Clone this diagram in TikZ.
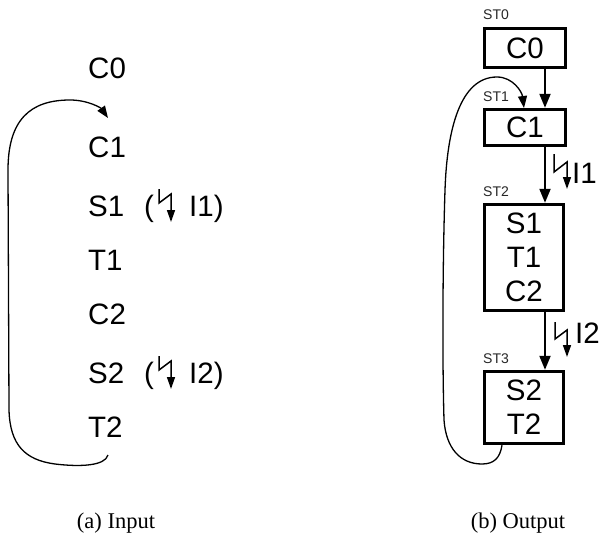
\documentclass[tikz,border=0pt]{standalone}
\usepackage{fontspec}
\setmainfont{Liberation Sans}
\newfontfamily\capfont{Liberation Serif}
\usetikzlibrary{arrows.meta}
\begin{document}
\begin{tikzpicture}[x=1pt,y=-1pt,
  lbl/.style={font=\fontsize{29.5}{34}\selectfont, inner sep=0pt, anchor=base west},
  stbox/.style={draw, line width=3.4pt, align=center, inner sep=0pt, font=\fontsize{29.5}{34}\selectfont},
  stlabel/.style={font=\fontsize{14}{16}\selectfont, inner sep=0pt, anchor=base west, text=black!85},
  flow/.style={line width=2pt, -{Triangle[width=11pt,length=14pt]}},
  loopline/.style={line width=1.3pt, -{Triangle[width=9pt,length=12pt]}},
  bolt/.style={line width=1.5pt, line join=miter, -{Triangle[width=8pt,length=12pt]}},
  captext/.style={font=\capfont\fontsize{22.5}{26}\selectfont, inner sep=0pt, anchor=base}
]
\useasboundingbox (0,0) rectangle (602,535);

% ---------- (a) Input ----------
\node[lbl] (c0) at (88,78) {C0};
\node[lbl] (c1) at (88,157) {C1};
\node[lbl] (s1) at (88,216) {S1};
\node[lbl] (t1) at (88,270) {T1};
\node[lbl] (c2) at (88,324) {C2};
\node[lbl] (s2) at (88,383) {S2};
\node[lbl] (t2) at (88,437) {T2};

\node[lbl] (p1) at (144,216) {(};
\node[lbl] (i1) at (189,216) {I1)};
\node[lbl] (p2) at (144,383) {(};
\node[lbl] (i2) at (189,383) {I2)};
\draw[bolt] (159,189) -- (159,203) -- (171,194) -- (171,222);
\draw[bolt] (159,356) -- (159,370) -- (171,361) -- (171,389);

\coordinate (t2out) at (108,455);
\coordinate (c1in) at (108,118);
\draw[loopline] (t2out) .. controls (105,466) and (80,467) .. (55,464)
  .. controls (25,460) and (10,445) .. (9,410) -- (8,170)
  .. controls (8,120) and (30,100) .. (70,100)
  .. controls (88,100) and (101,108) .. (c1in);

\node[captext] (capa) at (116,528) {(a) Input};

% ---------- (b) Output ----------
\node[stbox, minimum width=81pt, minimum height=39pt] (st0) at (525,48) {C0};
\node[stbox, minimum width=81pt, minimum height=36pt] (st1) at (525,127.5) {C1};
\node[stbox, minimum width=79pt, minimum height=106pt] (st2) at (524,257.5) {S1\\T1\\C2};
\node[stbox, minimum width=79pt, minimum height=72pt] (st3) at (524,407.5) {S2\\T2};

\node[stlabel] (l0) at (483,20) {ST0};
\node[stlabel] (l1) at (483,101) {ST1};
\node[stlabel] (l2) at (483,196) {ST2};
\node[stlabel] (l3) at (483,363) {ST3};

\coordinate (ax) at (545,0);
\draw[flow] (st0.south -| ax) -- (st1.north -| ax);
\draw[flow] (st1.south -| ax) -- (st2.north -| ax);
\draw[flow] (st2.south -| ax) -- (st3.north -| ax);

\draw[bolt] (554,154) -- (554,172) -- (567,162) -- (567,189);
\node[lbl] (o1) at (572,183) {I1};
\draw[bolt] (555,322) -- (555,339) -- (567,330) -- (567,357);
\node[lbl] (o2) at (575,343) {I2};

\coordinate (bx) at (502,0);
\coordinate (st1in) at (524,108);
\draw[loopline] (st3.south -| bx) .. controls (500,458) and (494,464) .. (482,464)
  .. controls (460,464) and (446,448) .. (444,420)
  .. controls (442,350) and (443,250) .. (445,190)
  .. controls (447,130) and (460,77) .. (497,77)
  .. controls (513,77) and (522,92) .. (st1in);

\node[captext] (capb) at (518,528) {(b) Output};
\end{tikzpicture}
\end{document}
